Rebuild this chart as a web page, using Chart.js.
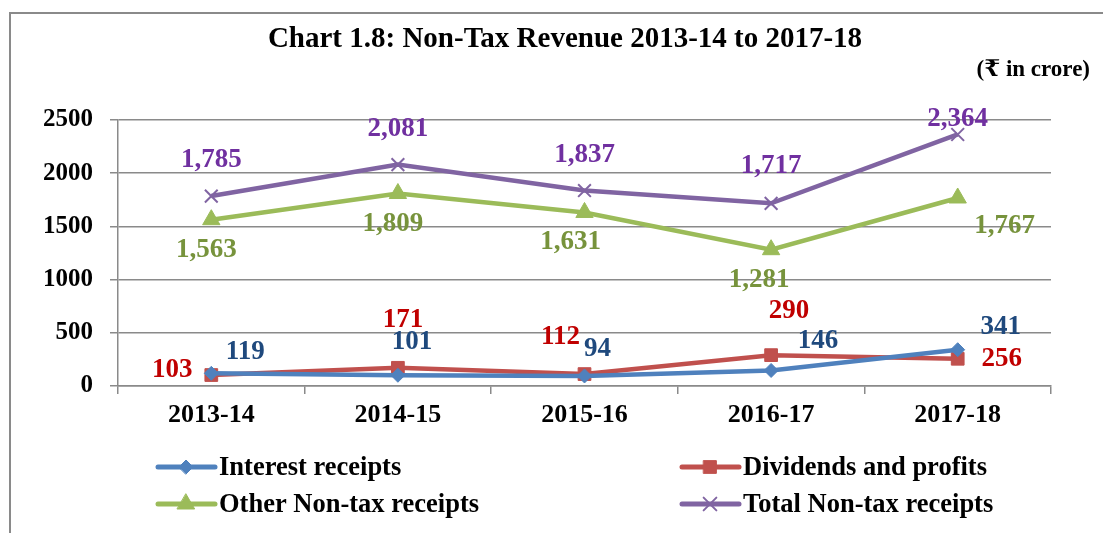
<!DOCTYPE html>
<html>
<head>
<meta charset="utf-8">
<script src="https://cdn.jsdelivr.net/npm/chart.js@4/dist/chart.umd.min.js"></script>
<style>
  body { margin: 0; background: #fff; }
  #wrap { width: 1103px; height: 533px; }
</style>
</head>
<body>
<div id="wrap"><canvas id="myChart" width="1103" height="533"></canvas></div>
<script>
const years = ["2013-14", "2014-15", "2015-16", "2016-17", "2017-18"];
const interest = [119, 101, 94, 146, 341];
const dividends = [103, 171, 112, 290, 256];
const otherNonTax = [1563, 1809, 1631, 1281, 1767];
const totalNonTax = [1785, 2081, 1837, 1717, 2364];
const yTicks = [0, 500, 1000, 1500, 2000, 2500];

// where each value label sits relative to its point (px)
const labelOffsets = [
  [[34, -21], [14, -33], [13, -27], [47, -29], [43, -23]],
  [[-39, -5], [5, -48], [-24, -37], [18, -44], [44, 0]],
  [[-5, 30], [-5, 31], [-14, 30], [-12, 30], [47, 28]],
  [[0, -36], [0, -36], [0, -36], [0, -37], [0, -15]]
];
const labelColors = ["#1F497D", "#C00000", "#77933C", "#7030A0"];

const serif = "'Liberation Serif', 'Times New Roman', 'DejaVu Serif', serif";

const decor = {
  id: "decor",
  beforeDraw(chart) {
    const ctx = chart.ctx;
    ctx.save();
    ctx.strokeStyle = "#8a8a8a";
    ctx.lineWidth = 2;
    ctx.strokeRect(10, 13, 1200, 600);
    ctx.fillStyle = "#000";
    ctx.textBaseline = "middle";
    ctx.textAlign = "center";
    ctx.font = "bold 29px " + serif;
    ctx.fillText("Chart 1.8: Non-Tax Revenue 2013-14 to 2017-18", 565, 40);
    ctx.textAlign = "right";
    ctx.font = "bold 23px " + serif + ", 'DejaVu Sans'";
    ctx.fillText("(\u20B9 in crore)", 1090, 70);
    ctx.restore();
  },
  afterDatasetsDraw(chart) {
    const ctx = chart.ctx;
    ctx.save();
    ctx.font = "bold 27px " + serif;
    ctx.textAlign = "center";
    ctx.textBaseline = "middle";
    chart.data.datasets.forEach((ds, i) => {
      const meta = chart.getDatasetMeta(i);
      ctx.fillStyle = labelColors[i];
      meta.data.forEach((pt, j) => {
        const off = labelOffsets[i][j];
        ctx.fillText(ds.data[j].toLocaleString("en-US"), pt.x + off[0], pt.y + off[1]);
      });
    });
    // legend, two columns
    const cols = [158, 682];
    const rows = [467, 504];
    ctx.font = "bold 26.5px " + serif;
    ctx.textAlign = "left";
    chart.data.datasets.forEach((ds, i) => {
      const x = cols[i % 2], y = rows[Math.floor(i / 2)];
      ctx.strokeStyle = ds.borderColor;
      ctx.lineWidth = 5;
      ctx.lineCap = "round";
      ctx.beginPath();
      ctx.moveTo(x, y);
      ctx.lineTo(x + 57, y);
      ctx.stroke();
      ctx.fillStyle = ds.backgroundColor;
      ctx.strokeStyle = ds.borderColor;
      ctx.lineWidth = ds.pointBorderWidth || 1;
      Chart.helpers.drawPoint(ctx, {
        pointStyle: ds.pointStyle,
        radius: ds.pointRadius,
        borderWidth: ds.pointBorderWidth || 1
      }, x + 28, y);
      ctx.fillStyle = "#000";
      ctx.fillText(ds.label, x + 61, y + 1);
    });
    ctx.restore();
  }
};

new Chart(document.getElementById("myChart"), {
  type: "line",
  data: {
    labels: years,
    datasets: [
      {
        label: "Interest receipts", data: interest,
        borderColor: "#4F81BD", backgroundColor: "#4F81BD",
        pointStyle: "rectRot", pointRadius: 7, pointBorderWidth: 1
      },
      {
        label: "Dividends and profits", data: dividends,
        borderColor: "#C0504D", backgroundColor: "#C0504D",
        pointStyle: "rect", pointRadius: 9, pointBorderWidth: 1
      },
      {
        label: "Other Non-tax receipts", data: otherNonTax,
        borderColor: "#9BBB59", backgroundColor: "#9BBB59",
        pointStyle: "triangle", pointRadius: 10, pointBorderWidth: 1
      },
      {
        label: "Total Non-tax receipts", data: totalNonTax,
        borderColor: "#8064A2", backgroundColor: "#8064A2",
        pointStyle: "crossRot", pointRadius: 9, pointBorderWidth: 2
      }
    ]
  },
  options: {
    responsive: false,
    animation: false,
    layout: { padding: { left: 20, right: 52, top: 120, bottom: 0 } },
    elements: {
      line: { borderWidth: 4.5, tension: 0 },
      point: { hoverRadius: 9 }
    },
    plugins: {
      legend: { display: false },
      title: { display: false },
      tooltip: { enabled: false }
    },
    scales: {
      x: {
        offset: true,
        grid: { offset: true, drawOnChartArea: false, drawTicks: true, tickLength: 8, color: "#8a8a8a", lineWidth: 1.5 },
        border: { color: "#8a8a8a", width: 1.5 },
        ticks: { color: "#000", font: { family: serif, size: 26, weight: "bold" }, padding: 6 },
        afterFit(scale) { scale.height = 147; }
      },
      y: {
        min: 0, max: 2500,
        afterBuildTicks(scale) { scale.ticks = yTicks.map(v => ({ value: v })); },
        grid: { color: "#8a8a8a", lineWidth: 1.5, tickLength: 8 },
        border: { color: "#8a8a8a", width: 1.5 },
        ticks: { color: "#000", font: { family: serif, size: 25, weight: "bold" }, padding: 17, callback: v => String(v) },
        afterFit(scale) { scale.width = 98; }
      }
    }
  },
  plugins: [decor]
});
</script>
</body>
</html>
